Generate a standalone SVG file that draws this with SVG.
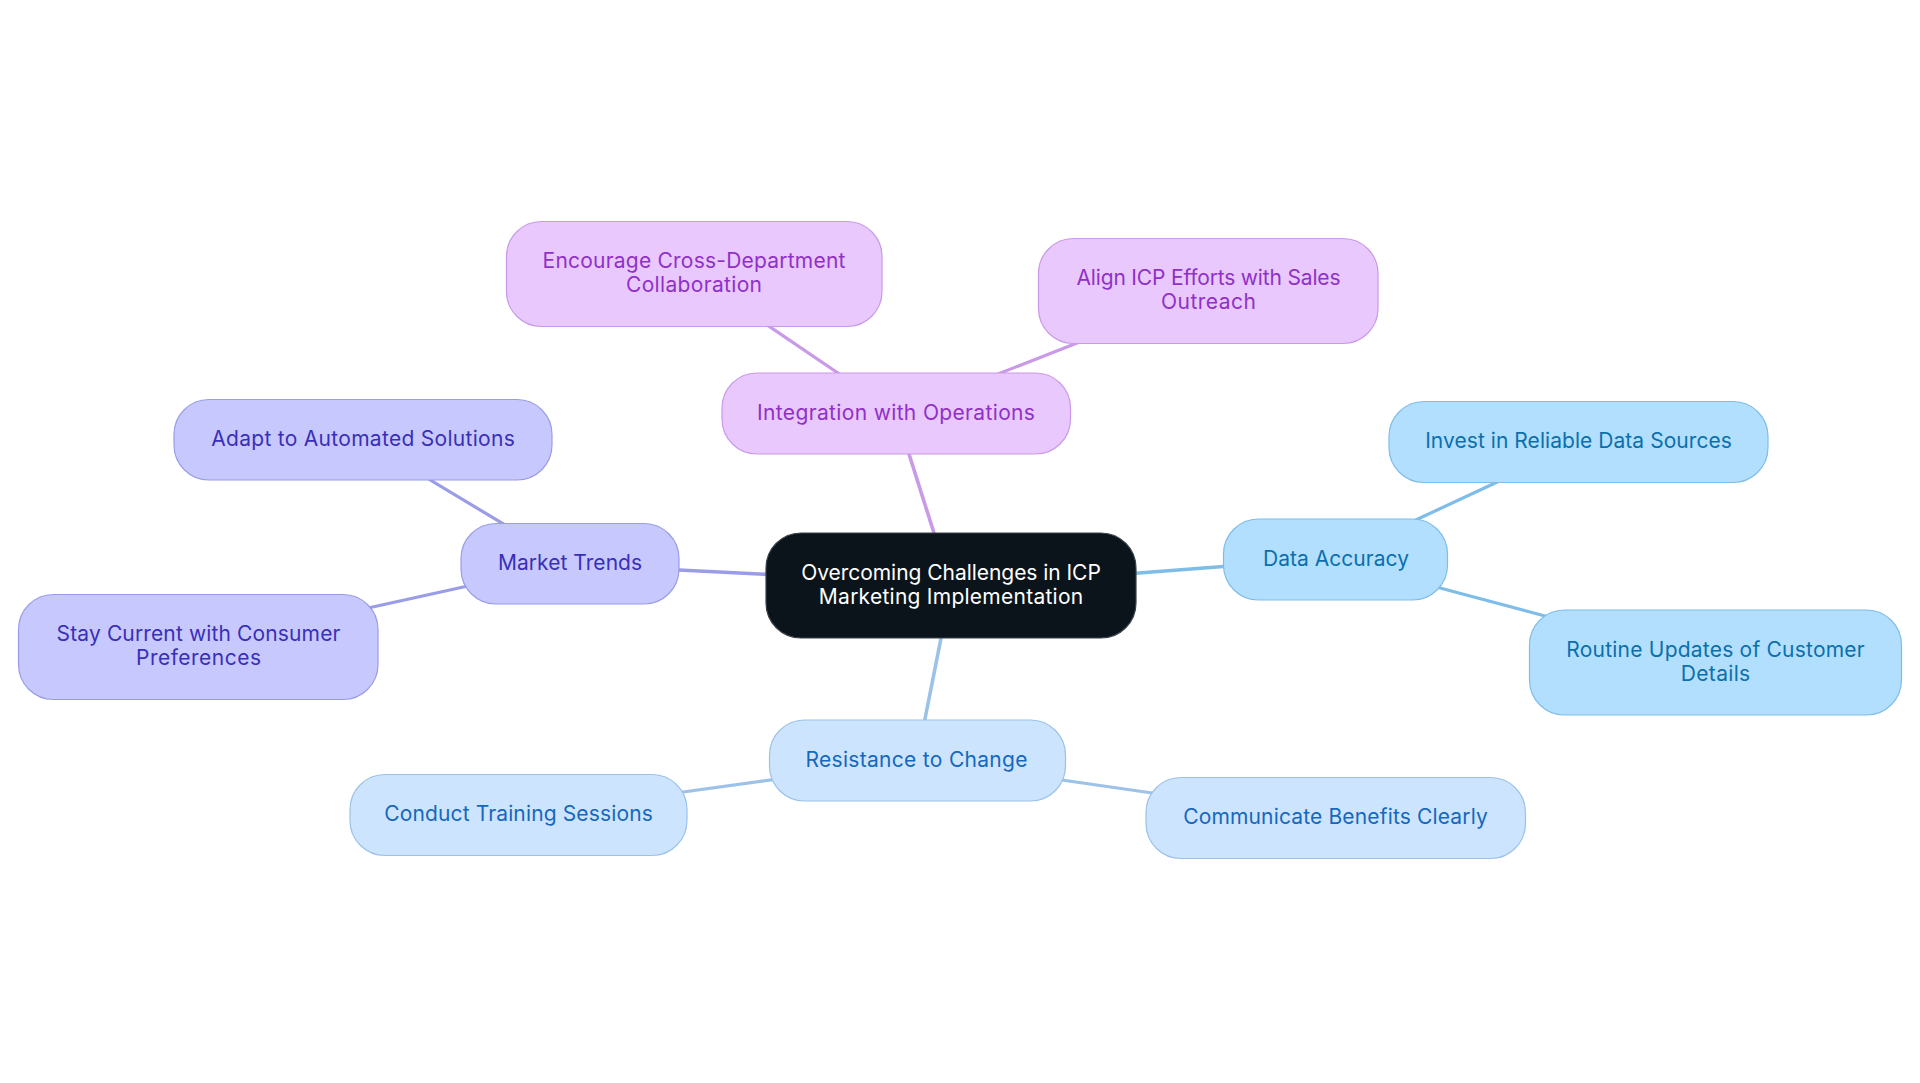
<svg xmlns="http://www.w3.org/2000/svg" width="1920" height="1083" viewBox="0 0 1920 1083">
<style>
text{font-family:"Inter","Liberation Sans",sans-serif;font-size:21px;text-anchor:middle}
rect{stroke-width:1.200px}
.e{fill:none;stroke-width:3.200px}
.r{stroke-width:3.600px}
.root rect{fill:#0b141b;stroke:#3a4249}.root text{fill:#fff}
.p rect{fill:#e9c8fe;stroke:#c99ae8}.p text{fill:#9030c8}
.i rect{fill:#c7c9fe;stroke:#9a9ce8}.i text{fill:#3a2fb8}
.b rect{fill:#b3dffe;stroke:#7dbde8}.b text{fill:#0a70ad}
.l rect{fill:#cde4fe;stroke:#9cc2e8}.l text{fill:#1568bd}
</style>
<rect width="1920" height="1083" fill="#fff" style="stroke:none"/>
<g id="connectors">
<path class="e r" stroke="#c99ae8" d="M943.500 563L899.500 424"/>
<path class="e" stroke="#c99ae8" d="M860 388L748 312M970 385L1105 332"/>
<path class="e r" stroke="#9a9ce8" d="M786 575.300L659 569"/>
<path class="e" stroke="#9a9ce8" d="M525 537L407 466M486 582L350 612"/>
<path class="e r" stroke="#7dbde8" d="M1116 574.800L1243 565"/>
<path class="e" stroke="#7dbde8" d="M1390 532L1523 470M1410 580L1575 624"/>
<path class="e r" stroke="#9cc2e8" d="M945 618L921 739"/>
<path class="e" stroke="#9cc2e8" d="M800 776L654 796M1034 776L1180 797"/>
</g>
<g id="root" class="root"><rect x="766" y="533" width="370" height="105" rx="35"/><text x="951" y="580" textLength="299.600" lengthAdjust="spacing">Overcoming Challenges in ICP</text><text x="951" y="604" textLength="264.300" lengthAdjust="spacing">Marketing Implementation</text></g>
<g id="integration" class="p"><rect x="722" y="373" width="348.500" height="81" rx="35"/><text x="896" y="420" textLength="277.900" lengthAdjust="spacing">Integration with Operations</text></g>
<g id="encourage" class="p"><rect x="506.500" y="221.500" width="375.500" height="105" rx="35"/><text x="694" y="267.500" textLength="302.800" lengthAdjust="spacing">Encourage Cross-Department</text><text x="694" y="291.500" textLength="136" lengthAdjust="spacing">Collaboration</text></g>
<g id="align" class="p"><rect x="1038.500" y="238.500" width="339.500" height="105" rx="35"/><text x="1208.500" y="284.500" textLength="264" lengthAdjust="spacing">Align ICP Efforts with Sales</text><text x="1208.500" y="308.500" textLength="95" lengthAdjust="spacing">Outreach</text></g>
<g id="market" class="i"><rect x="461" y="523.500" width="218" height="80.500" rx="35"/><text x="570" y="570" textLength="144.200" lengthAdjust="spacing">Market Trends</text></g>
<g id="adapt" class="i"><rect x="174" y="399.500" width="378" height="80.500" rx="35"/><text x="363" y="446" textLength="303.600" lengthAdjust="spacing">Adapt to Automated Solutions</text></g>
<g id="stay" class="i"><rect x="18.500" y="594.500" width="359.500" height="105" rx="35"/><text x="198.500" y="641" textLength="283.900" lengthAdjust="spacing">Stay Current with Consumer</text><text x="198.500" y="665" textLength="125" lengthAdjust="spacing">Preferences</text></g>
<g id="data" class="b"><rect x="1223.500" y="519" width="224" height="81" rx="35"/><text x="1336" y="566" textLength="146" lengthAdjust="spacing">Data Accuracy</text></g>
<g id="invest" class="b"><rect x="1389" y="401.500" width="379" height="81" rx="35"/><text x="1578.500" y="448" textLength="306.700" lengthAdjust="spacing">Invest in Reliable Data Sources</text></g>
<g id="routine" class="b"><rect x="1529.500" y="610" width="372" height="105" rx="35"/><text x="1715.500" y="657" textLength="298.400" lengthAdjust="spacing">Routine Updates of Customer</text><text x="1715.500" y="681" textLength="69.300" lengthAdjust="spacing">Details</text></g>
<g id="resistance" class="l"><rect x="769.500" y="720" width="296" height="81" rx="35"/><text x="916.500" y="767" textLength="222" lengthAdjust="spacing">Resistance to Change</text></g>
<g id="conduct" class="l"><rect x="350" y="774.500" width="337" height="81" rx="35"/><text x="518.500" y="821" textLength="268.600" lengthAdjust="spacing">Conduct Training Sessions</text></g>
<g id="communicate" class="l"><rect x="1146" y="777.500" width="379.500" height="81" rx="35"/><text x="1335.500" y="824" textLength="304.600" lengthAdjust="spacing">Communicate Benefits Clearly</text></g>
</svg>
